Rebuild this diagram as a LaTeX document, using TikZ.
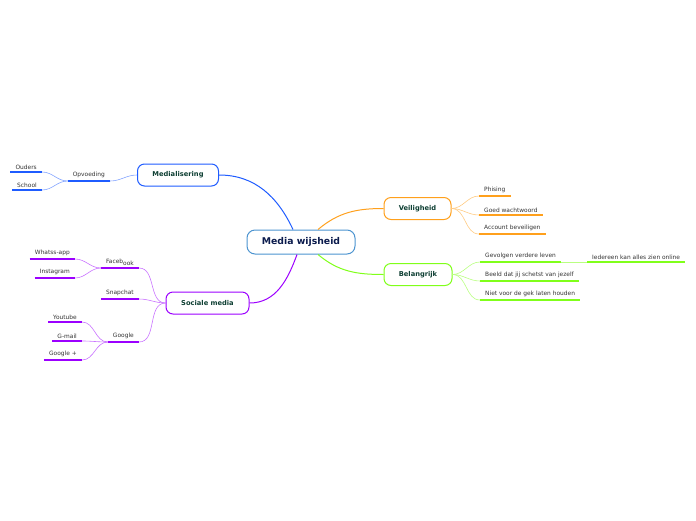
\documentclass[tikz,border=0pt]{standalone}
\usepackage{fontspec}
\setmainfont{DejaVu Sans}
\usetikzlibrary{calc}

\begin{document}
\begin{tikzpicture}[x=1pt, y=1pt,
    rootbox/.style={draw=rootBorder, fill=white, line width=1pt, rounded corners=8pt,
        minimum width=108pt, minimum height=24pt, text=rootText,
        font=\bfseries\fontsize{9.3}{11}\selectfont},
    topic/.style={draw=#1, fill=white, line width=1pt, rounded corners=7pt,
        minimum height=22pt, text=topicText,
        font=\bfseries\fontsize{6.7}{8}\selectfont},
    subitem/.style={inner xsep=5pt, inner ysep=2.6pt, text=subText,
        font=\fontsize{5.9}{7}\selectfont},
    link/.style={draw=#1, line width=1pt},
    branch/.style={draw=#1!55, line width=0.6pt},
    underline/.style={draw=#1, line width=1.5pt}]

    \definecolor{rootBorder}{HTML}{4C94D0}
    \definecolor{rootText}{HTML}{0B1B4D}
    \definecolor{topicText}{HTML}{0E3F33}
    \definecolor{subText}{HTML}{333333}
    \definecolor{mediaBlue}{HTML}{1F5CFF}
    \definecolor{safeOrange}{HTML}{FFA01C}
    \definecolor{importGreen}{HTML}{80FF1A}
    \definecolor{socialPurple}{HTML}{9C00FF}

    \useasboundingbox (0,0) rectangle (696,-520);

    % Central topic
    \node[rootbox] (root) at (301,-242) {Media wijsheid};

    % Main topics
    \node[topic=mediaBlue, minimum width=81pt] (medialisering) at (178,-175) {Medialisering};
    \node[topic=safeOrange, minimum width=67pt] (veiligheid) at (417.5,-208.5) {Veiligheid};
    \node[topic=importGreen, minimum width=68pt] (belangrijk) at (418,-274.5) {Belangrijk};
    \node[topic=socialPurple, minimum width=83pt] (sociale) at (207.5,-303) {Sociale media};

    % Links from the centre
    \draw[link=mediaBlue] (medialisering.east) to[out=0, in=115] ($(root.north)+(-8,0)$);
    \draw[link=safeOrange] ($(root.north)+(17,0)$) to[out=40, in=180] (veiligheid.west);
    \draw[link=importGreen] ($(root.south)+(17,0)$) to[out=-40, in=180] (belangrijk.west);
    \draw[link=socialPurple] ($(root.south)+(-4,0)$) to[out=-110, in=0] (sociale.east);

    % Medialisering
    \node[subitem, anchor=south east] (opvoeding) at (110,-181) {Opvoeding};
    \node[subitem, anchor=south east] (ouders) at (42,-172) {Ouders};
    \node[subitem, anchor=south east] (school) at (42,-190) {School};
    \draw[branch=mediaBlue] (medialisering.west) to[out=180, in=0] (opvoeding.south east);
    \foreach \n in {ouders,school}
        \draw[branch=mediaBlue] (opvoeding.south west) to[out=180, in=0] (\n.south east);
    \foreach \n in {opvoeding,ouders,school}
        \draw[underline=mediaBlue] (\n.south west) -- (\n.south east);

    % Veiligheid
    \node[subitem, anchor=south west] (phising) at (479,-196) {Phising};
    \node[subitem, anchor=south west] (wachtwoord) at (479,-215) {Goed wachtwoord};
    \node[subitem, anchor=south west] (account) at (479,-234) {Account beveiligen};
    \foreach \n in {phising,wachtwoord,account} {
        \draw[branch=safeOrange] (veiligheid.east) to[out=0, in=180] (\n.south west);
        \draw[underline=safeOrange] (\n.south west) -- (\n.south east);
    }

    % Belangrijk
    \node[subitem, anchor=south west] (gevolgen) at (480,-262) {Gevolgen verdere leven};
    \node[subitem, anchor=south west] (iedereen) at (587,-262) {Iedereen kan alles zien online};
    \node[subitem, anchor=south west] (beeld) at (480,-281) {Beeld dat jij schetst van jezelf};
    \node[subitem, anchor=south west] (niet) at (480,-300) {Niet voor de gek laten houden};
    \foreach \n in {gevolgen,beeld,niet}
        \draw[branch=importGreen] (belangrijk.east) to[out=0, in=180] (\n.south west);
    \draw[branch=importGreen] (gevolgen.south east) -- (iedereen.south west);
    \foreach \n in {gevolgen,iedereen,beeld,niet}
        \draw[underline=importGreen] (\n.south west) -- (\n.south east);

    % Sociale media
    \node[subitem, anchor=south east] (facebook) at (139,-268) {Faceb\raisebox{-1.3pt}{ook}};
    \node[subitem, anchor=south east] (snapchat) at (139,-299) {Snapchat};
    \node[subitem, anchor=south east] (google) at (139,-342) {Google};
    \node[subitem, anchor=south east] (whatsapp) at (75,-259) {Whatss-app};
    \node[subitem, anchor=south east] (instagram) at (75,-278) {Instagram};
    \node[subitem, anchor=south east] (youtube) at (82,-322) {Youtube};
    \node[subitem, anchor=south east] (gmail) at (82,-341) {G-mail};
    \node[subitem, anchor=south east] (googleplus) at (82,-360) {Google +};
    \foreach \n in {facebook,snapchat,google}
        \draw[branch=socialPurple] (sociale.west) to[out=180, in=0] (\n.south east);
    \foreach \n in {whatsapp,instagram}
        \draw[branch=socialPurple] (facebook.south west) to[out=180, in=0] (\n.south east);
    \foreach \n in {youtube,gmail,googleplus}
        \draw[branch=socialPurple] (google.south west) to[out=180, in=0] (\n.south east);
    \foreach \n in {facebook,snapchat,google,whatsapp,instagram,youtube,gmail,googleplus}
        \draw[underline=socialPurple] (\n.south west) -- (\n.south east);

\end{tikzpicture}
\end{document}
